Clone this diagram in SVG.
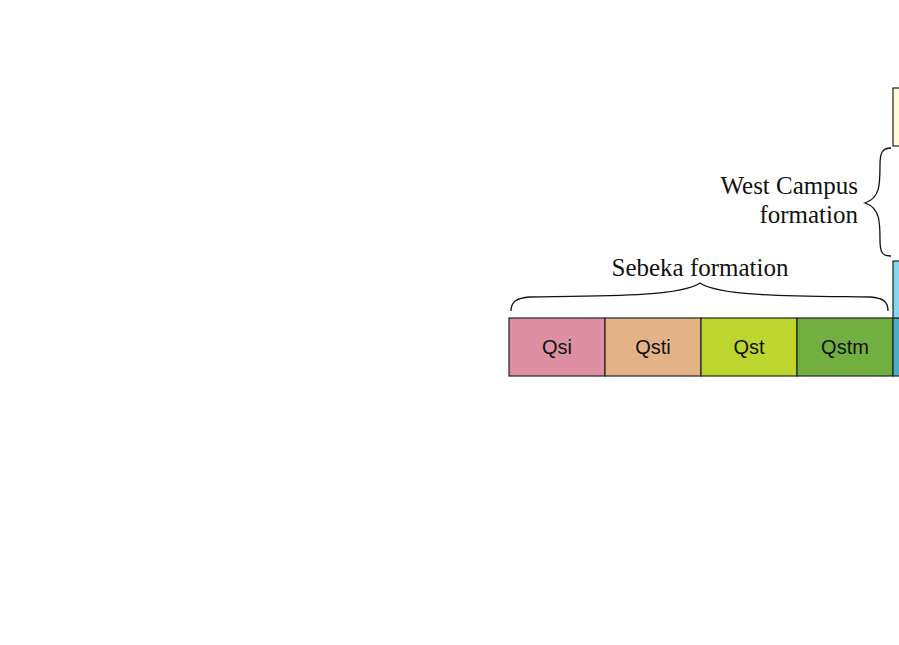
<svg xmlns="http://www.w3.org/2000/svg" width="899" height="645" viewBox="0 0 899 645">
<style>
.box{stroke:#222;stroke-width:1.2}
.lbl{font-family:"Liberation Sans",Arial,sans-serif;font-size:20px;fill:#111;text-anchor:middle}
.cap{font-family:"Liberation Serif","Times New Roman",serif;font-size:25px;fill:#111}
.brace{fill:none;stroke:#111;stroke-width:1.3}
</style>
<rect width="899" height="645" fill="#fff"/>
<g id="qsi"><rect class="box" x="509" y="318" width="96" height="58" fill="#DE8FA3"/><text class="lbl" x="557" y="354">Qsi</text></g>
<g id="qsti"><rect class="box" x="605" y="318" width="96" height="58" fill="#E3B387"/><text class="lbl" x="653" y="354">Qsti</text></g>
<g id="qst"><rect class="box" x="701" y="318" width="96" height="58" fill="#BCD62F"/><text class="lbl" x="749" y="354">Qst</text></g>
<g id="qstm"><rect class="box" x="797" y="318" width="96" height="58" fill="#72AF40"/><text class="lbl" x="845" y="354">Qstm</text></g>
<g id="teal"><rect class="box" x="893" y="318" width="20" height="58" fill="#4BACC6"/></g>
<g id="blue"><rect class="box" x="893" y="261" width="20" height="57" fill="#85D4F0"/></g>
<g id="yellow"><rect class="box" x="893" y="88" width="20" height="58" fill="#FFFBD9"/></g>
<g id="sebeka">
<path class="brace" d="M511,311 C511,302 516,298 530,297 C600,296 680,297 700,283 C720,297 800,296 870,297 C884,298 888,302 888,311"/>
<text class="cap" x="700" y="276" text-anchor="middle">Sebeka formation</text>
</g>
<g id="westcampus">
<path class="brace" d="M891,148 C882,148 880,153 880,165 C880,185 880,198 865,203 C880,208 880,222 880,240 C880,252 882,256 891,256"/>
<text class="cap" x="858" y="194" text-anchor="end">West Campus</text>
<text class="cap" x="858" y="223" text-anchor="end">formation</text>
</g>
</svg>
